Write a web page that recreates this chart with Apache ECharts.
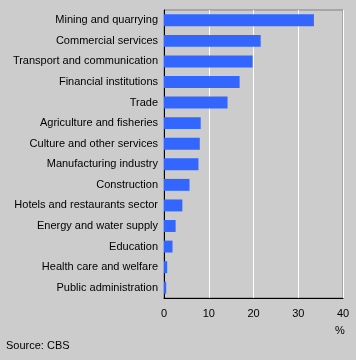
<!DOCTYPE html>
<html><head><meta charset="utf-8">
<script src="https://cdn.jsdelivr.net/npm/echarts@6/dist/echarts.min.js"></script>
<style>html,body{margin:0;padding:0;background:#cccccc;}#c{width:356px;height:360px;}</style>
</head><body><div id="c"></div>
<script>
const categories = ["Mining and quarrying","Commercial services","Transport and communication","Financial institutions","Trade","Agriculture and fisheries","Culture and other services","Manufacturing industry","Construction","Hotels and restaurants sector","Energy and water supply","Education","Health care and welfare","Public administration"];
const values = [33.5, 21.6, 19.8, 16.9, 14.2, 8.2, 8.0, 7.7, 5.7, 4.1, 2.6, 1.9, 0.7, 0.5];
const xTicks = [0, 10, 20, 30, 40];
const unitLabel = "%";
const sourceText = "Source: CBS";

const font = "'Liberation Sans', Arial, sans-serif";
const chart = echarts.init(document.getElementById('c'), null, {renderer:'canvas'});
chart.setOption({
  backgroundColor: '#cccccc',
  animation: false,
  grid: {left: 164, right: 13, top: 10, bottom: 62, show: true, borderColor: '#808080', borderWidth: 1, backgroundColor: 'transparent', containLabel: false},
  xAxis: {
    type: 'value', min: xTicks[0], max: xTicks[xTicks.length-1], interval: 10,
    axisLine: {show: true, lineStyle: {color: '#000', width: 1}},
    axisTick: {show: false},
    splitLine: {show: true, lineStyle: {color: '#ffffff', width: 1}},
    axisLabel: {color: '#000', fontFamily: font, fontSize: 11, margin: 10}
  },
  yAxis: {
    type: 'category', data: categories, inverse: true,
    axisLine: {show: true, lineStyle: {color: '#000', width: 1}},
    axisTick: {show: false},
    axisLabel: {color: '#000', fontFamily: font, fontSize: 11, margin: 6}
  },
  series: [{
    type: 'bar', data: values, barCategoryGap: '42%',
    itemStyle: {color: '#3366ff'}
  }],
  graphic: [
    {type: 'text', left: 335, top: 325, style: {text: unitLabel, fill: '#000', font: "11px " + font}},
    {type: 'text', left: 6, top: 340, style: {text: sourceText, fill: '#000', font: "11px " + font}}
  ]
});
</script></body></html>
